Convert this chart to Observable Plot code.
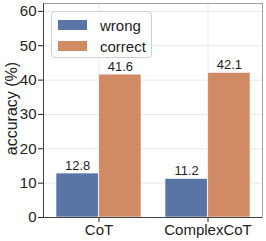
<!DOCTYPE html>
<html>
<head>
<meta charset="utf-8">
<script src="https://cdn.jsdelivr.net/npm/d3@7"></script>
<script src="https://cdn.jsdelivr.net/npm/@observablehq/plot@0.6"></script>
<style>
  html, body { margin: 0; padding: 0; background: #fff; }
  #wrap { position: relative; width: 266px; height: 241px; font-family: "Liberation Sans", Arial, sans-serif; }
  #legend { position: absolute; left: 51px; top: 11px; width: 101px; height: 47px; border: 1px solid #cfcfcf; border-radius: 4px; background: #fff; box-sizing: border-box; }
  .item { position: absolute; left: 6px; height: 12px; display: flex; align-items: center; font-size: 15px; color: #222; }
  .sw { width: 29px; height: 10px; margin-right: 13px; }
</style>
</head>
<body>
<div id="wrap"></div>
<script>
const categories = ["CoT", "ComplexCoT"];
const series = ["wrong", "correct"];
const wrongValues = [12.8, 11.2];
const correctValues = [41.6, 42.1];
const yTicks = [0, 10, 20, 30, 40, 50, 60];
const yLabel = "accuracy (%)";
const colors = ["#5975a5", "#d08b65"];

const data = [];
categories.forEach((c, i) => {
  data.push({cat: c, series: "wrong", value: wrongValues[i]});
  data.push({cat: c, series: "correct", value: correctValues[i]});
});
const wrongData = data.filter(d => d.series === "wrong");
const correctData = data.filter(d => d.series === "correct");

const bw = (266 - 43 - 4) / 2;
const half = bw / 2;
const outer = 12;

const chart = Plot.plot({
  width: 266,
  height: 241,
  marginLeft: 43,
  marginRight: 4,
  marginTop: 3,
  marginBottom: 24,
  style: {fontFamily: "Liberation Sans, Arial, sans-serif", fontSize: "15px", color: "#222", background: "#fff", overflow: "visible"},
  x: {domain: categories, padding: 0, label: null, tickSize: 5, tickPadding: 2},
  y: {domain: [0, 62.3], ticks: yTicks, label: null, tickSize: 5, tickPadding: 2},
  color: {domain: series, range: colors},
  marks: [
    Plot.gridY(yTicks, {stroke: "#e8e8e8", strokeOpacity: 1}),
    Plot.gridX({stroke: "#e8e8e8", strokeOpacity: 1}),
    Plot.barY(wrongData, {x: "cat", y: "value", fill: "series", insetLeft: outer, insetRight: half, stroke: "#fff", strokeWidth: 0.6}),
    Plot.barY(correctData, {x: "cat", y: "value", fill: "series", insetLeft: half, insetRight: outer, stroke: "#fff", strokeWidth: 0.6}),
    Plot.text(wrongData, {x: "cat", y: "value", text: d => d.value.toFixed(1), dx: -(half - outer) / 2, dy: -8, fontSize: 13, fill: "#222"}),
    Plot.text(correctData, {x: "cat", y: "value", text: d => d.value.toFixed(1), dx: (half - outer) / 2, dy: -8, fontSize: 13, fill: "#222"}),
    Plot.text([yLabel], {frameAnchor: "left", textAnchor: "middle", rotate: -90, dx: -32, dy: -2, fontSize: 16, fill: "#222"}),
    Plot.frame({stroke: "#a0a0a0"}),
    Plot.frame({anchor: "left", stroke: "#444"}),
    Plot.ruleY([0], {stroke: "#444"})
  ]
});
document.getElementById("wrap").appendChild(chart);

const legend = document.createElement("div");
legend.id = "legend";
series.forEach((s, i) => {
  const item = document.createElement("div");
  item.className = "item";
  item.style.top = (i === 0 ? 7 : 28) + "px";
  const sw = document.createElement("div");
  sw.className = "sw";
  sw.style.background = colors[i];
  item.appendChild(sw);
  const t = document.createElement("span");
  t.textContent = s;
  item.appendChild(t);
  legend.appendChild(item);
});
document.getElementById("wrap").appendChild(legend);
</script>
</body>
</html>
